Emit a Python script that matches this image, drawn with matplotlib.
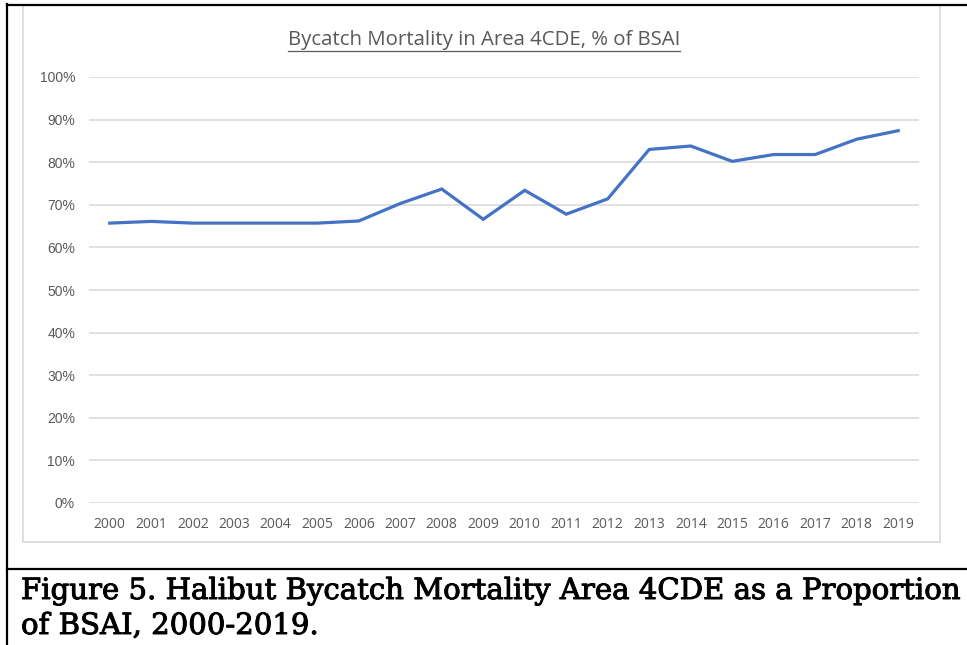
import matplotlib
matplotlib.use("Agg")
import matplotlib.pyplot as plt
from matplotlib.lines import Line2D
from matplotlib.patches import Rectangle
from matplotlib import font_manager
import matplotlib.patheffects as pe
import numpy as np

years = [str(y) for y in range(2000, 2020)]
values = [65.7, 66.1, 65.7, 65.7, 65.7, 65.7, 66.2, 70.3, 73.7, 66.6,
          73.4, 67.8, 71.4, 83.0, 83.8, 80.2, 81.8, 81.8, 85.4, 87.4]
yticks = [0, 10, 20, 30, 40, 50, 60, 70, 80, 90, 100]
ytick_labels = [f"{v}%" for v in yticks]
title = "Bycatch Mortality in Area 4CDE, % of BSAI"
caption1 = "Figure 5. Halibut Bycatch Mortality Area 4CDE as a Proportion"
caption2 = "of BSAI, 2000-2019."

names = {f.name for f in font_manager.fontManager.ttflist}
narrow = "Liberation Sans Narrow" if "Liberation Sans Narrow" in names else "Open Sans"

W, H = 967, 645
fig = plt.figure(figsize=(W / 100, H / 100), dpi=100)

def fx(px):
    return px / W

def fy(py):
    return 1 - py / H

# chart area border
fig.add_artist(Rectangle((fx(22.5), fy(542)), fx(940) - fx(22.5), fy(5) - fy(542),
                         transform=fig.transFigure, fill=False, edgecolor="#D9D9D9", lw=1.2))
# black frame lines
fig.add_artist(Line2D([fx(7), fx(7)], [fy(4), 0], transform=fig.transFigure, color="black", lw=1.6))
fig.add_artist(Line2D([fx(7), 1], [fy(4.5), fy(4.5)], transform=fig.transFigure, color="black", lw=1.6))
fig.add_artist(Line2D([fx(7), 1], [fy(569), fy(569)], transform=fig.transFigure, color="black", lw=1.6))

ax = fig.add_axes([fx(89), fy(503), fx(919) - fx(89), fy(77) - fy(503)])
x = np.arange(len(years))
ax.plot(x, values, color="#4472C4", lw=2.3, solid_joinstyle="miter")
ax.set_xlim(-0.5, len(years) - 0.5)
ax.set_ylim(0, 100)
ax.set_yticks(yticks)
ax.set_yticklabels(ytick_labels, fontsize=10, color="#595959", family="Liberation Sans")
ax.set_xticks(x)
ax.set_xticklabels(years, fontsize=10, color="#595959", family=narrow)
ax.tick_params(axis="both", length=0)
ax.tick_params(axis="y", pad=10)
ax.tick_params(axis="x", pad=10)
ax.grid(axis="y", color="#D9D9D9", lw=1.1)
ax.set_axisbelow(True)
for s in ax.spines.values():
    s.set_visible(False)

t = fig.text(fx(484), fy(40), title, ha="center", va="center", fontsize=14.7,
             color="#595959", family=narrow)

stroke = [pe.withStroke(linewidth=0.7, foreground="black")]
fig.text(fx(21), fy(599), caption1, ha="left", va="baseline", fontsize=21.0,
         family="DejaVu Serif", color="black", path_effects=stroke)
fig.text(fx(21), fy(634), caption2, ha="left", va="baseline", fontsize=21.0,
         family="DejaVu Serif", color="black", path_effects=stroke)

fig.canvas.draw()
bb = t.get_window_extent()
inv = fig.transFigure.inverted()
(x0, y0), (x1, y1) = inv.transform([[bb.x0, bb.y0], [bb.x1, bb.y1]])
fig.add_artist(Line2D([x0, x1], [fy(51), fy(51)], transform=fig.transFigure, color="#595959", lw=0.9))

fig.savefig("out.png", dpi=100)
